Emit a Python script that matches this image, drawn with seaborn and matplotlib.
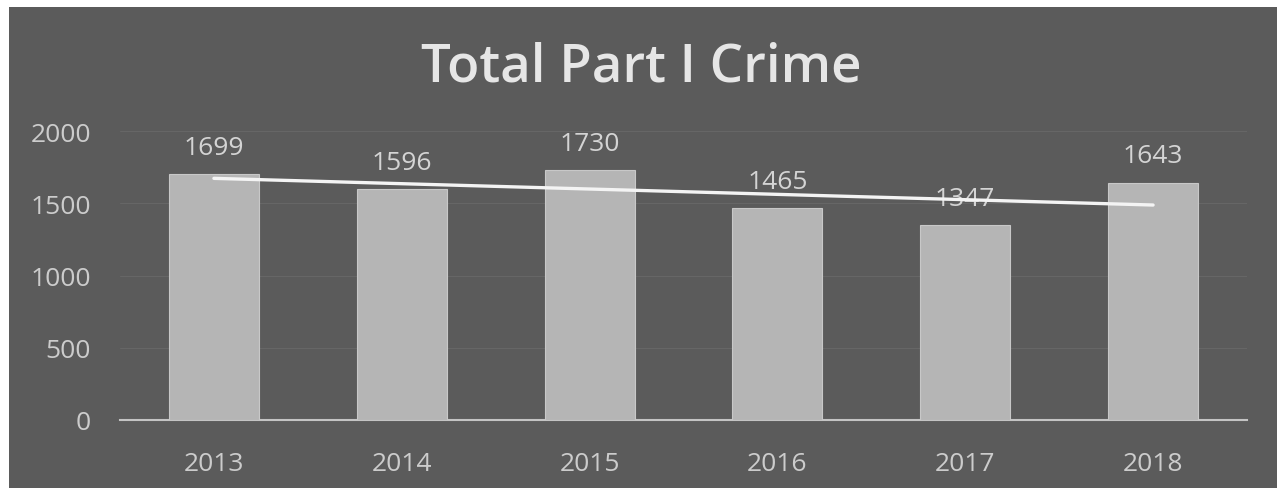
#!/usr/bin/env python3
"""Total Part I Crime bar chart with linear trend line (grey scanned look)."""

import numpy as np
import pandas as pd
import matplotlib
matplotlib.use("Agg")
import matplotlib.pyplot as plt
import seaborn as sns

years = ["2013", "2014", "2015", "2016", "2017", "2018"]
crimes = [1699, 1596, 1730, 1465, 1347, 1643]
y_ticks = [0, 500, 1000, 1500, 2000]

BG = "#5b5b5b"
BAR = "#b5b5b5"
TEXT = "#d4d4d4"

sns.set_theme(style="dark")
plt.rcParams['font.family'] = ['Open Sans', 'DejaVu Sans']

df = pd.DataFrame({"Year": years, "Crimes": crimes})

fig = plt.figure(figsize=(12.77, 4.89), dpi=100, facecolor="white")
# dark panel with a thin white margin on the left/top like the scan
fig.patches.append(plt.Rectangle((9 / 1277, 0), 1, 1 - 8 / 489, transform=fig.transFigure,
                                 facecolor=BG, edgecolor="none", zorder=-10))

ax = fig.add_axes([120 / 1277, 1 - 421 / 489, 1127 / 1277, 289 / 489])
ax.set_facecolor("none")

sns.barplot(data=df, x="Year", y="Crimes", color=BAR, width=0.48, saturation=1,
            edgecolor="#c8c8c8", linewidth=0.8, ax=ax, zorder=3)

# linear trend line
xs = np.arange(len(crimes))
slope, icpt = np.polyfit(xs, crimes, 1)
ax.plot(xs, slope * xs + icpt, color="#f4f4f4", linewidth=2.4, zorder=5)

for i, v in enumerate(crimes):
    ax.text(i, v + 185, str(v), ha="center", va="center", fontsize=19, color=TEXT, zorder=4)

ax.set_ylim(0, 2000)
ax.set_xlim(-0.5, len(years) - 0.5)
ax.set_yticks(y_ticks)
ax.set_yticklabels([str(t) for t in y_ticks])
ax.grid(axis="y", color="#666666", linewidth=0.8, zorder=0)
ax.grid(axis="x", visible=False)
for s in ["top", "right", "left"]:
    ax.spines[s].set_visible(False)
ax.spines["bottom"].set_color("#c4c4c4")
ax.spines["bottom"].set_linewidth(1.5)
ax.tick_params(axis="y", length=0, pad=21, labelsize=19, labelcolor="#cccccc")
ax.tick_params(axis="x", length=0, pad=22, labelsize=19, labelcolor="#cccccc")
ax.set_xlabel("")
ax.set_ylabel("")

fig.text(641 / 1277, 1 - 68 / 489, "Total Part I Crime", ha="center", va="center",
         fontsize=38, fontweight="semibold", color="#e6e6e6")

fig.savefig("out.png", dpi=100, facecolor=fig.get_facecolor())
